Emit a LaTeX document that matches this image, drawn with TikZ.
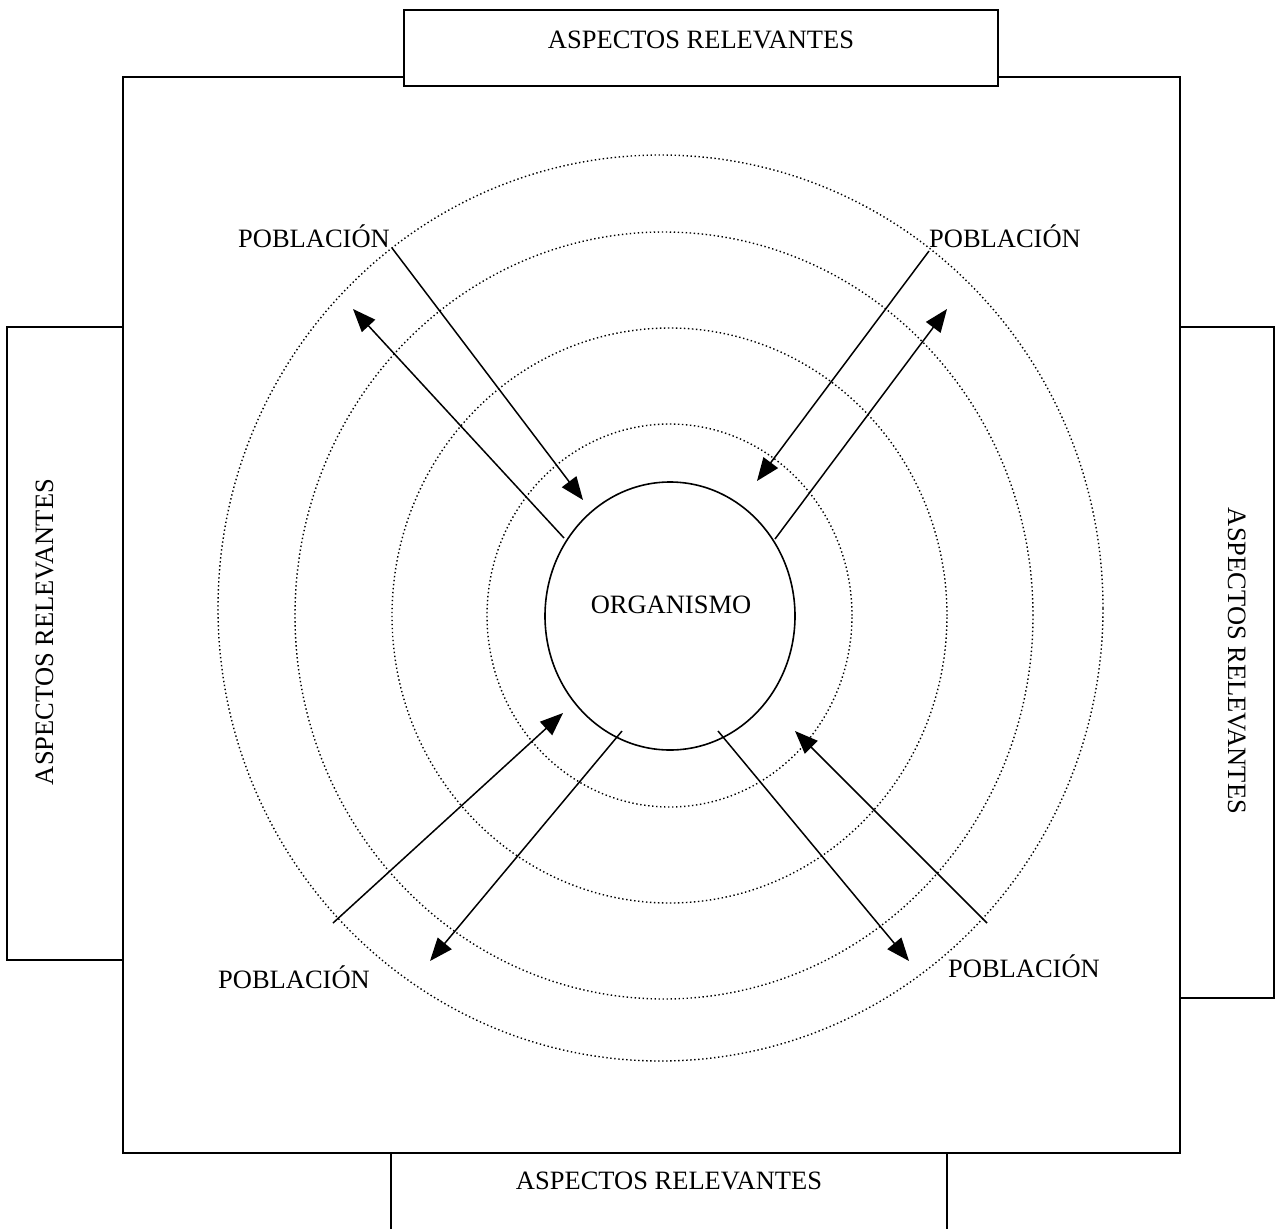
\documentclass[tikz,border=0pt]{standalone}
\usepackage{fontspec}
\setmainfont{Liberation Serif}
\usetikzlibrary{arrows.meta,shapes.geometric}
\begin{document}
\begin{tikzpicture}[x=1pt,y=-1pt,
  lbl/.style={font=\fontsize{26.5}{30}\selectfont, inner sep=0pt, anchor=base},
  frame/.style={draw=black, line width=1.6pt},
  ring/.style={draw=black, line width=1.4pt, dash pattern=on 1.4pt off 2.6pt},
  conn/.style={draw=black, line width=1.5pt},
  tip/.style={-{Triangle[length=23pt,width=18pt]}}]
\useasboundingbox (0,0) rectangle (1276,1229);
\fill[white] (0,0) rectangle (1276,1229);

% main square
\draw[frame] (123,77) rectangle (1180,1153);

% side boxes
\node[frame, fill=white, rectangle, inner sep=0pt, minimum width=594pt, minimum height=76pt] (topbox) at (701,48) {};
\node[frame, fill=white, rectangle, inner sep=0pt, minimum width=116pt, minimum height=633pt] (leftbox) at (65,643.5) {};
\node[frame, fill=white, rectangle, inner sep=0pt, minimum width=94pt, minimum height=671pt] (rightbox) at (1227,662.5) {};
\draw[frame] (391,1229) -- (391,1153) -- (947,1153) -- (947,1229);

\node[lbl] (toptxt) at (701,48) {ASPECTOS RELEVANTES};
\node[lbl] (bottxt) at (669,1189) {ASPECTOS RELEVANTES};
\node[lbl, rotate=90] (lefttxt) at (53,632) {ASPECTOS RELEVANTES};
\node[lbl, rotate=-90] (righttxt) at (1228,661) {ASPECTOS RELEVANTES};

% dotted rings
\draw[ring] (660.5,608) ellipse [x radius=442.5pt, y radius=453pt];
\draw[ring] (664,615.5) ellipse [x radius=369pt, y radius=383.5pt];
\draw[ring] (669.5,615.5) ellipse [x radius=277.5pt, y radius=287.5pt];
\draw[ring] (669.5,615.5) ellipse [x radius=182.5pt, y radius=191.5pt];

% organism
\node[draw=black, line width=1.6pt, ellipse, inner sep=0pt, minimum width=250pt, minimum height=268pt, fill=white] (org) at (670,616) {};
\node[lbl] (orgtxt) at (671,613) {ORGANISMO};

% labels
\node[lbl] (ptl) at (314,247) {POBLACIÓN};
\node[lbl] (ptr) at (1005,247) {POBLACIÓN};
\node[lbl] (pbl) at (294,988) {POBLACIÓN};
\node[lbl] (pbr) at (1024,977) {POBLACIÓN};

% arrow end points
\coordinate (tlA) at (392,248);  \coordinate (tlB) at (583,500);
\coordinate (tlC) at (564,538);  \coordinate (tlD) at (353,309);
\coordinate (trA) at (929,251);  \coordinate (trB) at (757,481);
\coordinate (trC) at (775,539);  \coordinate (trD) at (947,309);
\coordinate (blA) at (333,923);  \coordinate (blB) at (563,713);
\coordinate (blC) at (622,731);  \coordinate (blD) at (430,961);
\coordinate (brA) at (987,923);  \coordinate (brB) at (795,731);
\coordinate (brC) at (718,731);  \coordinate (brD) at (909,961);

\draw[conn, tip] (tlA) -- (tlB);
\draw[conn, tip] (tlC) -- (tlD);
\draw[conn, tip] (trA) -- (trB);
\draw[conn, tip] (trC) -- (trD);
\draw[conn, tip] (blA) -- (blB);
\draw[conn, tip] (blC) -- (blD);
\draw[conn, tip] (brA) -- (brB);
\draw[conn, tip] (brC) -- (brD);
\end{tikzpicture}
\end{document}
